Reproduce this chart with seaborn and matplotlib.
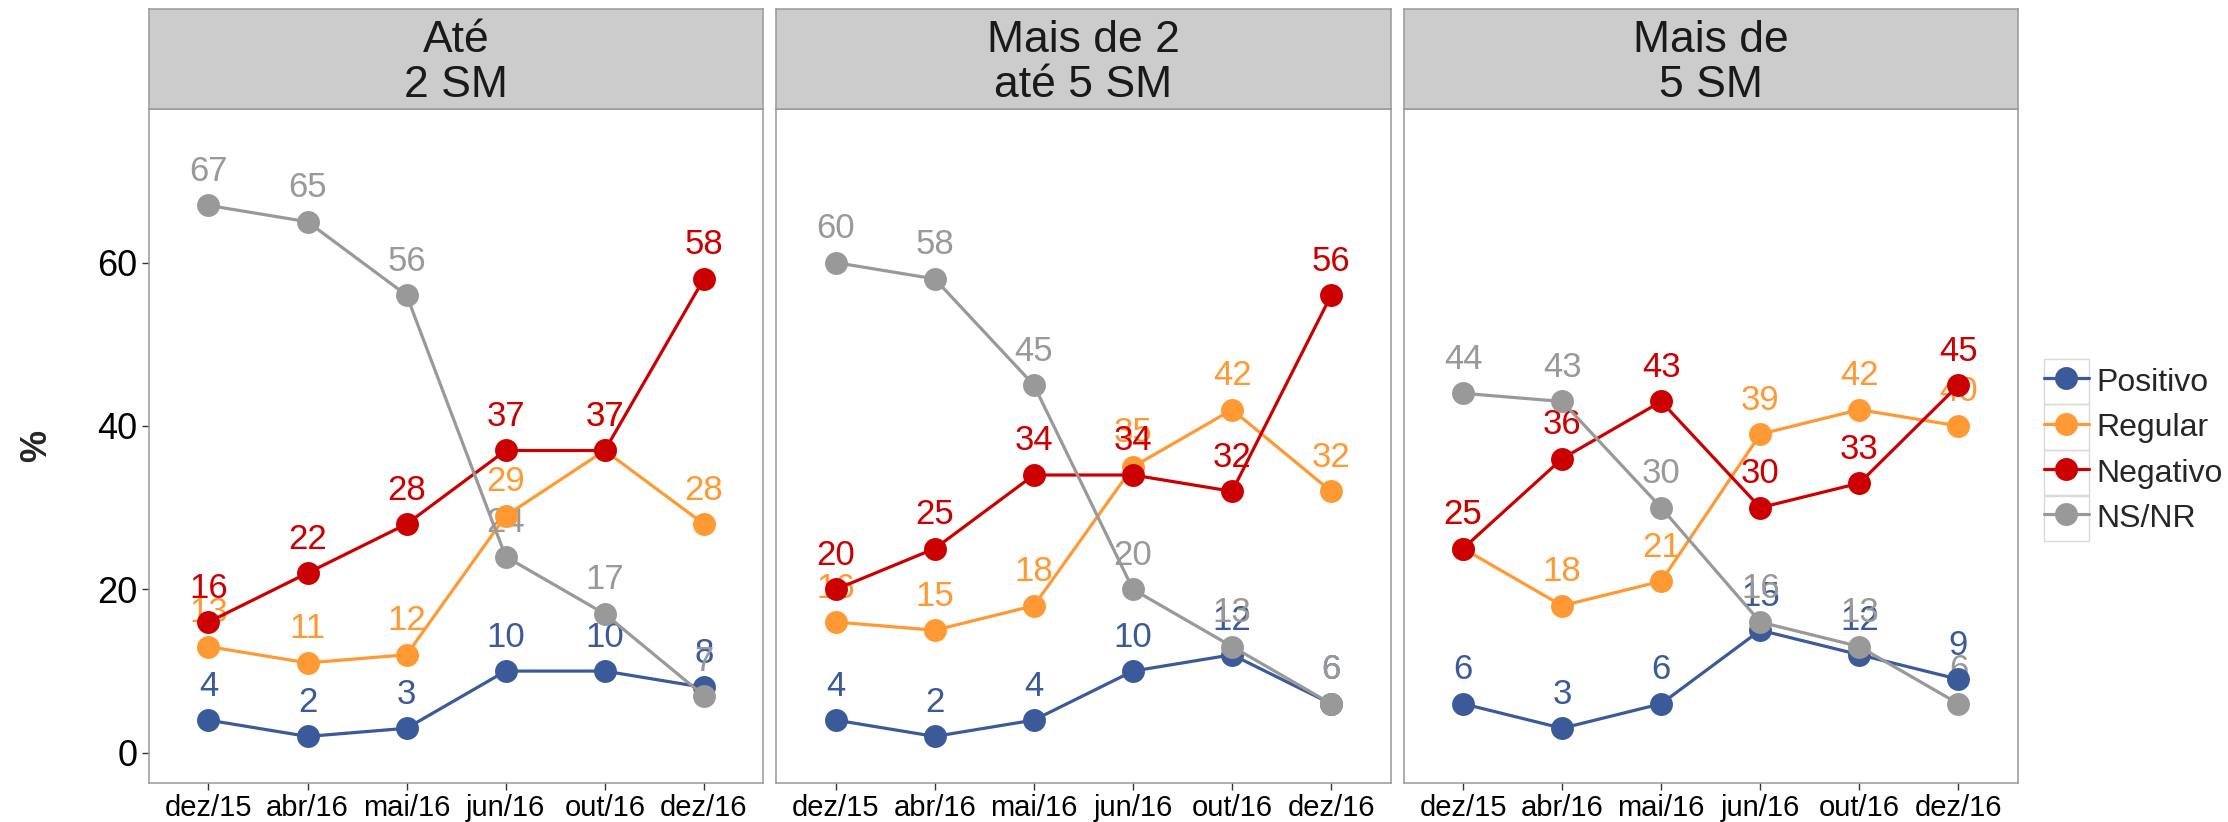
import matplotlib
matplotlib.use("Agg")
import matplotlib.pyplot as plt
from matplotlib.lines import Line2D
from matplotlib.patches import Rectangle
import pandas as pd
import seaborn as sns

# Dados
meses = ["dez/15", "abr/16", "mai/16", "jun/16", "out/16", "dez/16"]
faixas = ["Até\n2 SM", "Mais de 2\naté 5 SM", "Mais de\n5 SM"]
categorias = ["Positivo", "Regular", "Negativo", "NS/NR"]
cores = ["#3B5A9A", "#FF9933", "#CC0000", "#999999"]

positivo = [[4, 2, 3, 10, 10, 8], [4, 2, 4, 10, 12, 6], [6, 3, 6, 15, 12, 9]]
regular = [[13, 11, 12, 29, 37, 28], [16, 15, 18, 35, 42, 32], [25, 18, 21, 39, 42, 40]]
negativo = [[16, 22, 28, 37, 37, 58], [20, 25, 34, 34, 32, 56], [25, 36, 43, 30, 33, 45]]
nsnr = [[67, 65, 56, 24, 17, 7], [60, 58, 45, 20, 13, 6], [44, 43, 30, 16, 13, 6]]

valores = {"Positivo": positivo, "Regular": regular, "Negativo": negativo, "NS/NR": nsnr}
paleta = dict(zip(categorias, cores))

linhas = []
for f, faixa in enumerate(faixas):
    for cat in categorias:
        for m, mes in enumerate(meses):
            linhas.append({"faixa": faixa, "categoria": cat, "pos": m,
                           "mes": mes, "valor": valores[cat][f][m]})
df = pd.DataFrame(linhas)

sns.set_style("white")
plt.rcParams["font.family"] = ["Liberation Sans", "DejaVu Sans"]

W, H = 2228, 822
fig = plt.figure(figsize=(W / 100, H / 100), dpi=100)


def caixa(x0, y0, x1, y1):
    # pixels (origem no topo) -> coordenadas da figura
    return [x0 / W, 1 - y1 / H, (x1 - x0) / W, (y1 - y0) / H]


borda = "#999999"
pw = 614.3
for i, faixa in enumerate(faixas):
    x0 = 149 + i * (pw + 13)
    ax = fig.add_axes(caixa(x0, 109, x0 + pw, 783))
    sub = df[df["faixa"] == faixa]
    sns.lineplot(data=sub, x="pos", y="valor", hue="categoria",
                 hue_order=categorias, palette=paleta, marker="o",
                 markersize=16.5, markeredgewidth=0, linewidth=2.3,
                 errorbar=None, legend=False, ax=ax, zorder=3)
    for _, r in sub.iterrows():
        ax.text(r["pos"], r["valor"] + 3.0, str(r["valor"]),
                color=paleta[r["categoria"]], fontsize=25,
                ha="center", va="baseline", zorder=2)

    ax.set_xlim(-0.6, 5.6)
    ax.set_ylim(-3.7, 78.8)
    ax.set_xticks(range(len(meses)))
    ax.set_xticklabels(meses, fontsize=21)
    ax.set_xlabel("")
    ax.set_ylabel("")
    ax.tick_params(axis="x", bottom=True, direction="out", length=5,
                   width=1, color="#333333", pad=3, labelcolor="black")
    ax.set_yticks([0, 20, 40, 60])
    if i == 0:
        ax.tick_params(axis="y", left=True, direction="out", length=5,
                       width=1, color="#333333", pad=3.5, labelsize=26,
                       labelcolor="black")
    else:
        ax.tick_params(axis="y", left=False, labelleft=False)
    for s in ax.spines.values():
        s.set_color(borda)
        s.set_linewidth(1.1)

    # faixa do título do painel
    st = fig.add_axes(caixa(x0, 9.3, x0 + pw, 109))
    st.set_facecolor("#CCCCCC")
    st.set_xticks([])
    st.set_yticks([])
    for s in st.spines.values():
        s.set_color(borda)
        s.set_linewidth(1.1)
    st.text(0.5, 0.46, faixa, ha="center", va="center", fontsize=32,
            color="#1A1A1A", linespacing=1.12, transform=st.transAxes)

fig.text(37 / W, 1 - 446 / H, "%", rotation=90, fontsize=26,
         fontweight="bold", ha="center", va="center")

# legenda
handles = [Line2D([], [], color=c, marker="o", markersize=16.5,
                  markeredgewidth=0, linewidth=2.3) for c in cores]
fig.legend(handles, categorias, loc="upper left",
           bbox_to_anchor=(2044 / W, 1 - 365.5 / H), frameon=False,
           fontsize=23, handlelength=1.4, handleheight=1.05,
           handletextpad=0.25, labelspacing=0.39, borderpad=0,
           borderaxespad=0)
for k in range(len(categorias)):
    fig.patches.append(Rectangle((2044 / W, 1 - (359 + 45.5 * (k + 1)) / H),
                                 45 / W, 45.5 / H, transform=fig.transFigure,
                                 fill=False, edgecolor="#D9D9D9", lw=1))

fig.savefig("out.png", dpi=100)
